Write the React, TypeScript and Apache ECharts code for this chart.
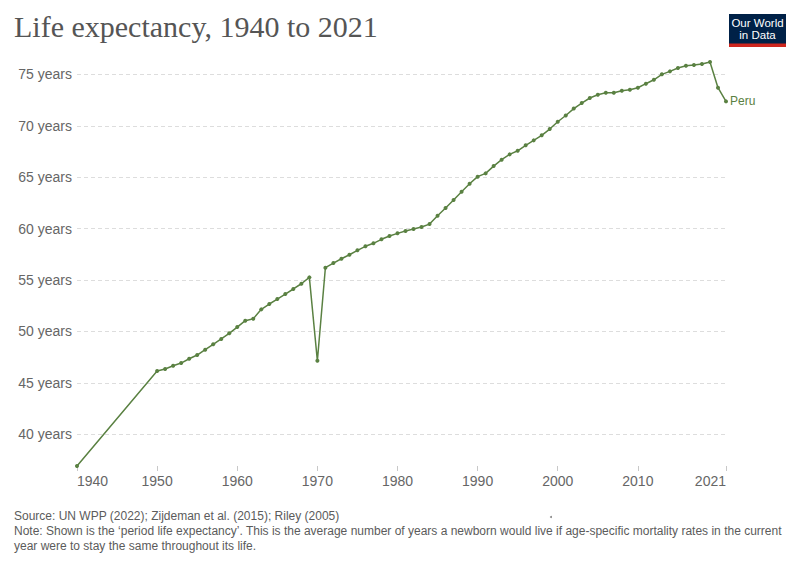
import React, { useEffect, useRef } from "react";
import * as echarts from "echarts";

const years: number[] = [
  1940,
  1950, 1951, 1952, 1953, 1954, 1955, 1956, 1957, 1958, 1959,
  1960, 1961, 1962, 1963, 1964, 1965, 1966, 1967, 1968, 1969,
  1970, 1971, 1972, 1973, 1974, 1975, 1976, 1977, 1978, 1979,
  1980, 1981, 1982, 1983, 1984, 1985, 1986, 1987, 1988, 1989,
  1990, 1991, 1992, 1993, 1994, 1995, 1996, 1997, 1998, 1999,
  2000, 2001, 2002, 2003, 2004, 2005, 2006, 2007, 2008, 2009,
  2010, 2011, 2012, 2013, 2014, 2015, 2016, 2017, 2018, 2019,
  2020, 2021,
];

const peru: number[] = [
  36.92,
  46.15, 46.35, 46.67, 46.93, 47.35, 47.71, 48.23, 48.75, 49.27, 49.82,
  50.43, 51.05, 51.24, 52.15, 52.67, 53.15, 53.64, 54.13, 54.64, 55.26,
  47.15, 56.2, 56.65, 57.07, 57.46, 57.89, 58.28, 58.57, 58.96, 59.28,
  59.54, 59.76, 59.96, 60.15, 60.44, 61.25, 62.0, 62.78, 63.59, 64.36,
  65.05, 65.37, 66.08, 66.7, 67.22, 67.57, 68.1, 68.58, 69.07, 69.68,
  70.39, 71.0, 71.67, 72.21, 72.7, 73.02, 73.21, 73.21, 73.41, 73.5,
  73.7, 74.09, 74.47, 75.0, 75.29, 75.61, 75.84, 75.9, 76.0, 76.2,
  73.7, 72.37,
];

const xTicks: number[] = [1940, 1950, 1960, 1970, 1980, 1990, 2000, 2010, 2021];
const yTicks: number[] = [40, 45, 50, 55, 60, 65, 70, 75];

const title = "Life expectancy, 1940 to 2021";
const seriesName = "Peru";
const sourceText = "Source: UN WPP (2022); Zijdeman et al. (2015); Riley (2005)";
const noteLine1 =
  "Note: Shown is the \u2018period life expectancy\u2019. This is the average number of years a newborn would live if age-specific mortality rates in the current";
const noteLine2 = "year were to stay the same throughout its life.";

const GREEN = "#5a8142";
const SANS = "'Liberation Sans', Arial, Helvetica, sans-serif";

export default function App() {
  const ref = useRef<HTMLDivElement>(null);

  useEffect(() => {
    if (!ref.current) return;
    const chart = echarts.init(ref.current, undefined, { renderer: "svg" });
    const data = years.map((y, i) => [y, peru[i]]);
    const yMin = Math.min(...peru);
    const yMax = Math.max(...peru);

    chart.setOption({
      animation: false,
      backgroundColor: "#ffffff",
      grid: {
        left: 77,
        right: 74,
        top: 62,
        bottom: 99,
        outerBoundsMode: "none",
        containLabel: false,
      },
      xAxis: {
        type: "value",
        min: 1940,
        max: 2021,
        axisLine: { show: false },
        axisTick: {
          show: true,
          length: 5,
          customValues: xTicks,
          lineStyle: { color: "#c8c8c8" },
        },
        axisLabel: {
          customValues: xTicks,
          formatter: (v: number) => String(v),
          color: "#666666",
          fontSize: 14,
          fontFamily: SANS,
          margin: 8,
          alignMinLabel: "left",
          alignMaxLabel: "right",
        },
        splitLine: { show: false },
      },
      yAxis: {
        type: "value",
        min: yMin,
        max: yMax,
        axisLine: { show: false },
        axisTick: { show: false, customValues: yTicks },
        axisLabel: {
          customValues: yTicks,
          formatter: (v: number) => `${v} years`,
          color: "#666666",
          fontSize: 14,
          fontFamily: SANS,
          margin: 5,
        },
        splitLine: {
          show: true,
          lineStyle: { color: "#dddddd", type: [4, 3], width: 1 },
        },
      },
      series: [
        {
          name: seriesName,
          type: "line",
          data,
          symbol: "circle",
          symbolSize: 4,
          showSymbol: true,
          itemStyle: { color: GREEN },
          lineStyle: { color: GREEN, width: 1.5 },
          endLabel: {
            show: true,
            formatter: seriesName,
            color: GREEN,
            fontSize: 12,
            fontFamily: SANS,
            distance: 4,
          },
        },
      ],
      graphic: [
        {
          type: "text",
          left: 14,
          top: 11,
          style: {
            text: title,
            fill: "#555555",
            font: "30px 'Liberation Serif', 'Times New Roman', serif",
          },
        },
        {
          type: "group",
          left: 729,
          top: 14,
          children: [
            { type: "rect", shape: { x: 0, y: 0, width: 57, height: 33 }, style: { fill: "#002147" } },
            { type: "rect", shape: { x: 0, y: 29.5, width: 57, height: 3.5 }, style: { fill: "#ce261e" } },
            {
              type: "text",
              x: 28.5,
              y: 9,
              style: {
                text: "Our World",
                fill: "#ffffff",
                font: "11.5px 'Liberation Sans', Arial, sans-serif",
                align: "center",
                verticalAlign: "middle",
              },
            },
            {
              type: "text",
              x: 28.5,
              y: 21,
              style: {
                text: "in Data",
                fill: "#ffffff",
                font: "11.5px 'Liberation Sans', Arial, sans-serif",
                align: "center",
                verticalAlign: "middle",
              },
            },
          ],
        },
        {
          type: "text",
          left: 14,
          top: 510,
          style: { text: sourceText, fill: "#5b5b5b", font: `12px ${SANS}` },
        },
        {
          type: "text",
          left: 14,
          top: 525,
          style: { text: noteLine1, fill: "#5b5b5b", font: `12px ${SANS}` },
        },
        {
          type: "text",
          left: 14,
          top: 540,
          style: { text: noteLine2, fill: "#5b5b5b", font: `12px ${SANS}` },
        },
        {
          type: "circle",
          shape: { cx: 551, cy: 517, r: 1 },
          style: { fill: "#888888" },
        },
      ],
    });

    return () => chart.dispose();
  }, []);

  return (
    <div
      ref={ref}
      style={{ width: 800, height: 565, position: "absolute", left: 0, top: 0 }}
    />
  );
}
